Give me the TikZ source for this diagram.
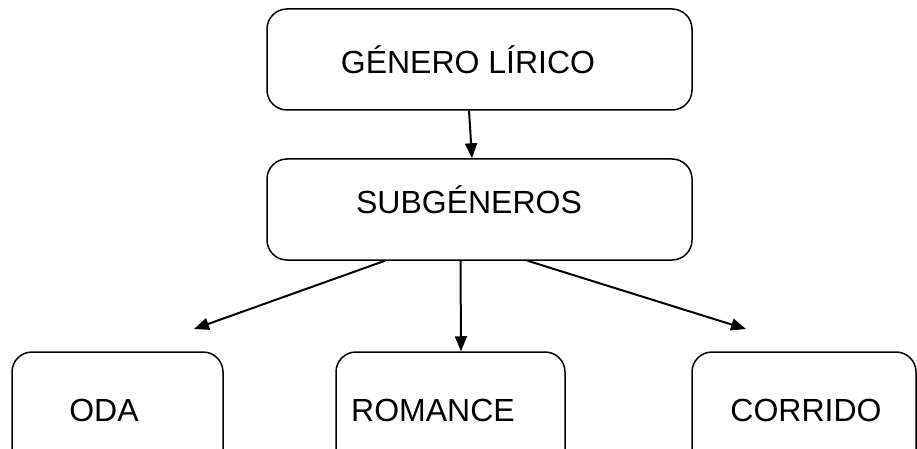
\documentclass[tikz,border=0pt]{standalone}
\usepackage{fontspec}
\setmainfont{Liberation Sans}
\usetikzlibrary{arrows.meta}
\tikzset{
  caja/.style={draw, line width=1.5pt, rounded corners=20pt, inner sep=0pt},
  rotulo/.style={font=\fontsize{32}{38}\selectfont, text height=23pt, text depth=0pt, inner sep=0pt},
  flecha/.style={line width=2pt, -{Triangle[length=15pt,width=12pt]}}
}

\begin{document}
\begin{tikzpicture}[x=1pt,y=-1pt]
			%%%%% START %%%%%
			\useasboundingbox (0,0) rectangle (917,449);
			\clip (0,0) rectangle (917,449);
			
			\node[caja, minimum width=425pt, minimum height=101pt,
			  label={[rotulo, xshift=-11.5pt, yshift=-3pt]center:GÉNERO LÍRICO}] (genero) at (479.5, 59.5) {};
			\node[caja, minimum width=425pt, minimum height=101pt,
			  label={[rotulo, xshift=-10.5pt, yshift=8pt]center:SUBGÉNEROS}] (subgeneros) at (479.5, 209.5) {};
			
			\node[caja, minimum width=211pt, minimum height=130pt,
			  label={[rotulo, xshift=-13.5pt, yshift=7.5pt]center:ODA}] (oda) at (117.5, 417) {};
			\node[caja, minimum width=229pt, minimum height=130pt,
			  label={[rotulo, xshift=-17.5pt, yshift=7.5pt]center:ROMANCE}] (romance) at (450.5, 417) {};
			\node[caja, minimum width=224pt, minimum height=130pt,
			  label={[rotulo, xshift=2pt, yshift=7.5pt]center:CORRIDO}] (corrido) at (804, 417) {};
			
			\coordinate (fin-oda) at (194, 329);
			\coordinate (fin-corrido) at (746, 329);
			
			\draw[flecha] ([xshift=-10.5pt]genero.south) -- ([xshift=-7.5pt]subgeneros.north);
			\draw[flecha] ([xshift=-94.5pt]subgeneros.south) -- (fin-oda);
			\draw[flecha] ([xshift=-19pt]subgeneros.south) -- ([xshift=10.5pt]romance.north);
			\draw[flecha] ([xshift=48pt]subgeneros.south) -- (fin-corrido);
			%%%%% END %%%%%
\end{tikzpicture}
\end{document}
